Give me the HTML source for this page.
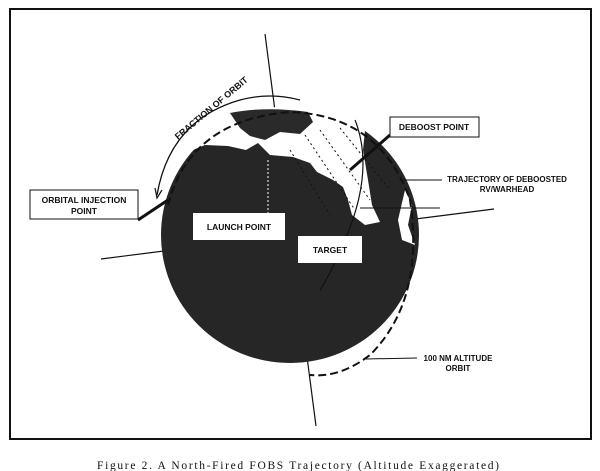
<!DOCTYPE html>
<html><head><meta charset="utf-8"><style>
html,body{margin:0;padding:0;background:#fff;width:600px;height:471px;overflow:hidden}
svg{display:block}
text{font-family:"Liberation Sans",sans-serif;font-weight:bold;fill:#111}
</style></head><body>
<svg width="600" height="471" viewBox="0 0 600 471">
<rect x="10" y="9" width="581" height="430" fill="#fff" stroke="#111" stroke-width="2"/>
<!-- axis lines -->
<line x1="265" y1="34" x2="316" y2="426" stroke="#111" stroke-width="1.2"/>
<line x1="101" y1="259" x2="494" y2="209" stroke="#111" stroke-width="1.2"/>
<!-- globe -->
<ellipse cx="290" cy="235" rx="129" ry="128" fill="#262626"/>
<!-- white land/ice region -->
<path d="M193,150 L205,145 L228,146 L246,150 L258,143 L270,155 L293,157 L310,163 L317,172 L333,180 L343,187 L348,200 L352,215 L365,225 L380,222 L372,205 L368,180 L363,150 L365,130 A129 128 0 0 0 193,150 Z" fill="#fff"/>
<path d="M405,190 L412,205 L408,225 L415,245 L402,240 L398,220 Z" fill="#fff"/>
<!-- Greenland -->
<path d="M230,113 Q265,106 308,112 L313,122 L300,134 L280,132 L265,140 L250,136 L240,128 Z" fill="#2a2a2a"/>
<!-- dotted meridians -->
<g stroke="#111" stroke-width="1" stroke-dasharray="2,3" fill="none">
<path d="M290,150 L330,215"/><path d="M305,135 L355,210"/><path d="M320,130 L370,200"/><path d="M340,128 L390,190"/>
</g>
<line x1="268" y1="160" x2="268" y2="215" stroke="#fff" stroke-width="1" stroke-dasharray="2,2"/>
<!-- orbit arcs -->
<path d="M168,205 Q190,120 290,112 Q380,115 410,200 Q425,300 370,355 Q340,378 310,375" fill="none" stroke="#111" stroke-width="2" stroke-dasharray="8,4"/>
<path d="M355,120 Q375,170 345,240 Q330,275 320,290" fill="none" stroke="#111" stroke-width="1.2"/>
<!-- fraction of orbit arc -->
<path d="M157,195 Q170,120 240,100 Q270,92 300,100" fill="none" stroke="#111" stroke-width="1.3"/>
<path d="M155,188 L157,198 L162,190" fill="none" stroke="#111" stroke-width="1.2"/>
<text x="178" y="140" font-size="9" transform="rotate(-40 178 140)">FRACTION OF ORBIT</text>
<!-- leaders -->
<line x1="138" y1="220" x2="168" y2="200" stroke="#111" stroke-width="3"/>
<line x1="390" y1="135" x2="350" y2="170" stroke="#111" stroke-width="3"/>
<line x1="360" y1="208" x2="440" y2="208" stroke="#111" stroke-width="1"/>
<!-- boxes -->
<rect x="30" y="190" width="108" height="29" fill="#fff" stroke="#111" stroke-width="1"/>
<text x="84" y="203" font-size="8.5" text-anchor="middle">ORBITAL INJECTION</text>
<text x="84" y="214" font-size="8.5" text-anchor="middle">POINT</text>
<rect x="193" y="213" width="92" height="27" fill="#fff"/>
<text x="239" y="230" font-size="8.5" text-anchor="middle">LAUNCH POINT</text>
<rect x="298" y="236" width="64" height="27" fill="#fff"/>
<text x="330" y="253" font-size="8.5" text-anchor="middle">TARGET</text>
<rect x="390" y="117" width="89" height="20" fill="#fff" stroke="#111" stroke-width="1"/>
<text x="434" y="130" font-size="8.5" text-anchor="middle">DEBOOST POINT</text>
<text x="507" y="182" font-size="8" text-anchor="middle">TRAJECTORY OF DEBOOSTED</text>
<text x="507" y="192" font-size="8" text-anchor="middle">RV/WARHEAD</text>
<line x1="400" y1="180" x2="442" y2="180" stroke="#111" stroke-width="1"/>
<text x="458" y="361" font-size="8" text-anchor="middle">100 NM ALTITUDE</text>
<text x="458" y="371" font-size="8" text-anchor="middle">ORBIT</text>
<line x1="366" y1="359" x2="417" y2="358" stroke="#111" stroke-width="1"/>
<text x="97" y="469" font-size="11.5" style="font-family:'Liberation Serif',serif;font-weight:normal" textLength="402">Figure 2.  A North-Fired FOBS Trajectory (Altitude Exaggerated)</text>
</svg>
</body></html>
